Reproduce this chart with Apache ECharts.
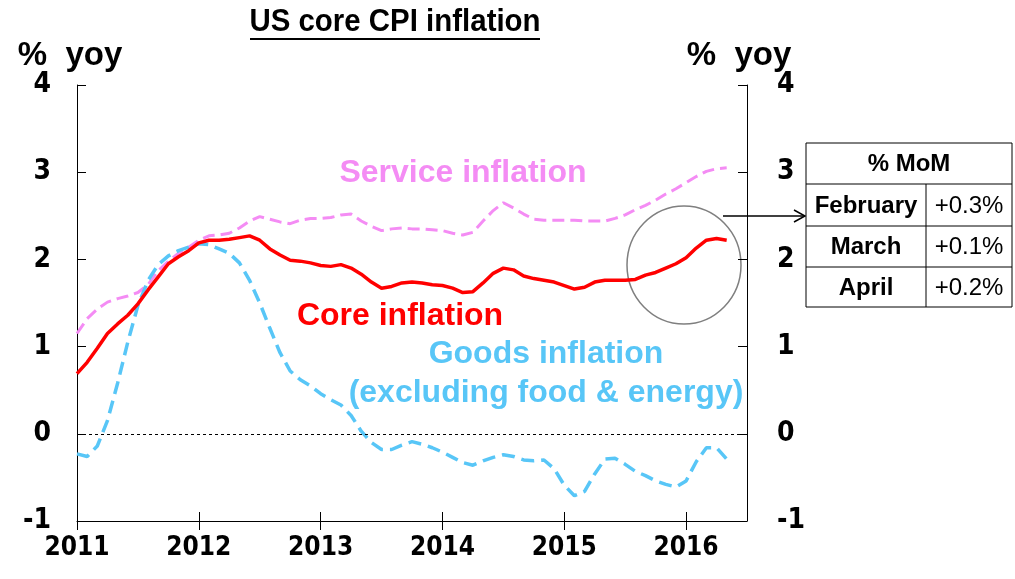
<!DOCTYPE html>
<html lang="en">
<head>
  <meta charset="UTF-8">
  <title>US core CPI inflation</title>
  <style>
    body { margin: 0; background: #fff; }
    #main { width: 1015px; height: 579px; }
  </style>
</head>
<body>
<div id="main"></div>
<script src="https://cdn.jsdelivr.net/npm/echarts@6/dist/echarts.min.js"></script>
<script>
  // monthly observations, first one at 2011.0
  let startYear = 2011;
  let coreInflation = [0.69, 0.82, 0.98, 1.15, 1.26, 1.36, 1.49, 1.65, 1.80, 1.95, 2.03, 2.10,
    2.19, 2.22, 2.22, 2.23, 2.25, 2.27, 2.22, 2.12, 2.05, 1.99, 1.98, 1.96,
    1.93, 1.92, 1.94, 1.90, 1.83, 1.74, 1.67, 1.69, 1.73, 1.74, 1.73, 1.71,
    1.70, 1.67, 1.62, 1.63, 1.73, 1.84, 1.90, 1.88, 1.81, 1.78, 1.76, 1.74,
    1.70, 1.66, 1.68, 1.74, 1.76, 1.76, 1.76, 1.77, 1.82, 1.85, 1.90, 1.95,
    2.02, 2.13, 2.22, 2.24, 2.22];
  let serviceInflation = [1.15, 1.32, 1.43, 1.51, 1.55, 1.58, 1.62, 1.71, 1.87, 1.98, 2.07, 2.14,
    2.22, 2.27, 2.28, 2.30, 2.36, 2.44, 2.49, 2.46, 2.43, 2.41, 2.45, 2.47,
    2.47, 2.48, 2.51, 2.52, 2.44, 2.38, 2.33, 2.35, 2.36, 2.35, 2.35, 2.34,
    2.33, 2.30, 2.28, 2.31, 2.44, 2.56, 2.65, 2.59, 2.52, 2.46, 2.45, 2.45,
    2.45, 2.45, 2.44, 2.44, 2.44, 2.47, 2.51, 2.57, 2.62, 2.68, 2.75, 2.81,
    2.88, 2.95, 3.01, 3.04, 3.05];
  let goodsInflation = [-0.23, -0.26, -0.14, 0.15, 0.58, 1.05, 1.47, 1.76, 1.94, 2.04, 2.10, 2.14,
    2.18, 2.17, 2.12, 2.07, 1.96, 1.76, 1.50, 1.21, 0.93, 0.72, 0.62, 0.55,
    0.46, 0.39, 0.33, 0.21, 0.03, -0.10, -0.18, -0.18, -0.13, -0.09, -0.12, -0.16,
    -0.21, -0.27, -0.33, -0.36, -0.31, -0.27, -0.24, -0.26, -0.30, -0.31, -0.30, -0.40,
    -0.59, -0.71, -0.66, -0.46, -0.29, -0.28, -0.35, -0.43, -0.48, -0.54, -0.58, -0.61,
    -0.54, -0.32, -0.16, -0.16, -0.29];

  let momMonths = ['February', 'March', 'April'];
  let momValues = ['+0.3%', '+0.1%', '+0.2%'];

  let narrow = '"Liberation Sans Narrow", "DejaVu Sans Condensed", sans-serif';
  let arial = '"Liberation Sans", Arial, sans-serif';
  let pink = '#f48cf4';
  let blue = '#58c6f7';

  function toPairs(values) {
    return values.map((v, i) => [startYear + i / 12, v]);
  }

  let chart = echarts.init(document.getElementById('main'));

  // MoM table drawn as graphic elements
  let tableX = 806, tableW = 206, colX = 926;
  let rowTops = [143, 184, 226, 267, 307];
  let tableParts = [];
  tableParts.push({
    type: 'rect', shape: {x: tableX, y: rowTops[0], width: tableW, height: rowTops[4] - rowTops[0]},
    style: {fill: '#fff', stroke: '#000', lineWidth: 1}
  });
  for (let r = 1; r < 4; r++) {
    tableParts.push({
      type: 'line', shape: {x1: tableX, y1: rowTops[r], x2: tableX + tableW, y2: rowTops[r]},
      style: {stroke: '#000', lineWidth: 1}
    });
  }
  tableParts.push({
    type: 'line', shape: {x1: colX, y1: rowTops[1], x2: colX, y2: rowTops[4]},
    style: {stroke: '#000', lineWidth: 1}
  });
  tableParts.push({
    type: 'text', x: tableX + tableW / 2, y: (rowTops[0] + rowTops[1]) / 2 + 1,
    style: {text: '% MoM', font: 'bold 24px ' + arial, fill: '#000', textAlign: 'center', textVerticalAlign: 'middle'}
  });
  momMonths.forEach((m, i) => {
    let cy = (rowTops[i + 1] + rowTops[i + 2]) / 2 + 1;
    tableParts.push({
      type: 'text', x: (tableX + colX) / 2, y: cy,
      style: {text: m, font: 'bold 24px ' + arial, fill: '#000', textAlign: 'center', textVerticalAlign: 'middle'}
    });
    tableParts.push({
      type: 'text', x: (colX + tableX + tableW) / 2, y: cy,
      style: {text: momValues[i], font: '24px ' + arial, fill: '#000', textAlign: 'center', textVerticalAlign: 'middle'}
    });
  });

  function label(text, x, y, color, size) {
    return {
      type: 'text', x: x, y: y,
      style: {text: text, font: 'bold ' + size + 'px ' + arial, fill: color, textAlign: 'center', textVerticalAlign: 'middle'}
    };
  }

  let option = {
    animation: false,
    grid: {left: 77, right: 268, top: 85, bottom: 58},
    xAxis: [{
      type: 'value', min: 2011, max: 2016.5, interval: 1,
      axisLine: {show: true, onZero: false, lineStyle: {color: '#000', width: 1}},
      axisTick: {show: true, inside: false, length: 9, lineStyle: {color: '#000'}},
      axisLabel: {
        showMaxLabel: false, color: '#000', fontFamily: narrow, fontWeight: 'bold', fontSize: 26, margin: 14,
        formatter: v => Number.isInteger(v) ? String(v) : ''
      },
      splitLine: {show: false}
    }, {
      type: 'value', min: 2011, max: 2016.5, interval: 1, position: 'bottom',
      axisLine: {show: false, onZero: false},
      axisTick: {show: true, inside: true, length: 9, lineStyle: {color: '#000'}},
      axisLabel: {show: false},
      splitLine: {show: false}
    }],
    yAxis: [{
      type: 'value', min: -1, max: 4, interval: 1, position: 'left',
      axisLine: {show: true, lineStyle: {color: '#000', width: 1}},
      axisTick: {show: true, inside: true, length: 9, lineStyle: {color: '#000'}},
      axisLabel: {color: '#000', fontFamily: narrow, fontWeight: 'bold', fontSize: 28, margin: 26},
      splitLine: {show: false}
    }, {
      type: 'value', min: -1, max: 4, interval: 1, position: 'right',
      axisLine: {show: true, lineStyle: {color: '#000', width: 1}},
      axisTick: {show: true, inside: true, length: 9, lineStyle: {color: '#000'}},
      axisLabel: {color: '#000', fontFamily: narrow, fontWeight: 'bold', fontSize: 28, margin: 30},
      splitLine: {show: false}
    }],
    series: [{
      name: 'Service inflation', type: 'line', showSymbol: false,
      data: toPairs(serviceInflation),
      lineStyle: {color: pink, width: 3, type: [12, 6]},
      z: 2
    }, {
      name: 'Goods inflation', type: 'line', showSymbol: false,
      data: toPairs(goodsInflation),
      lineStyle: {color: blue, width: 3.5, type: [13, 7]},
      markLine: {
        silent: true, symbol: 'none', label: {show: false},
        lineStyle: {color: '#000', type: [3, 3], width: 1},
        data: [{yAxis: 0}]
      },
      z: 3
    }, {
      name: 'Core inflation', type: 'line', showSymbol: false,
      data: toPairs(coreInflation),
      lineStyle: {color: '#ff0000', width: 3.5},
      z: 4
    }],
    graphic: [
      {
        type: 'text', x: 395, y: 22, scaleX: 0.92,
        style: {text: 'US core CPI inflation', font: 'bold 32px ' + arial, fill: '#000', textAlign: 'center', textVerticalAlign: 'middle'}
      },
      {type: 'line', shape: {x1: 250, y1: 39, x2: 540, y2: 39}, style: {stroke: '#000', lineWidth: 2}},
      label('%  yoy', 70, 56, '#000', 33),
      label('%  yoy', 739, 56, '#000', 33),
      label('Service inflation', 463, 173, pink, 32),
      label('Core inflation', 400, 316, '#ff0000', 32),
      label('Goods inflation', 546, 354, blue, 32),
      label('(excluding food & energy)', 546, 393, blue, 32),
      {
        type: 'ellipse', shape: {cx: 684, cy: 265, rx: 57, ry: 59},
        style: {fill: 'none', stroke: '#7f7f7f', lineWidth: 1.5}
      },
      {type: 'line', shape: {x1: 723, y1: 216, x2: 804, y2: 216}, style: {stroke: '#000', lineWidth: 1.5}},
      {type: 'polyline', shape: {points: [[794, 210], [805, 216], [794, 222]]}, style: {stroke: '#000', lineWidth: 1.5, fill: 'none'}}
    ].concat(tableParts)
  };

  chart.setOption(option);
</script>
</body>
</html>
